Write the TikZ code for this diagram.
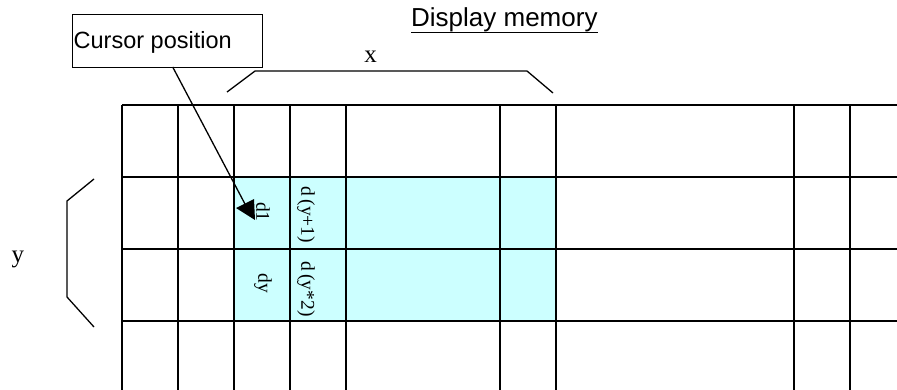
\documentclass[tikz,border=0pt]{standalone}
\usepackage{fontspec}
\setmainfont{Liberation Serif}
\newfontfamily\sansf{Liberation Sans}
\begin{document}
\begin{tikzpicture}[x=1pt,y=-1pt,
  gridline/.style={line width=1.5pt,black},
  brline/.style={line width=1.3pt,black},
  sanslbl/.style={font=\sansf\fontsize{23.5}{26}\selectfont,inner sep=0},
  seriflbl/.style={font=\fontsize{25}{27}\selectfont,inner sep=0},
  celllbl/.style={font=\fontsize{19.5}{21}\selectfont,inner sep=0,rotate=-90}]
\useasboundingbox (0,0) rectangle (897,390);
% cyan area
\fill[fill={rgb,255:red,204;green,255;blue,255}] (234,177) rectangle (556,321);
% grid
\foreach \yy in {105,177,249,321} \draw[gridline] (122,\yy) -- (897,\yy);
\foreach \xx in {122,178,234,290,346,500,556,794,850} \draw[gridline] (\xx,105) -- (\xx,390);
% cell labels
\node[celllbl] (d1) at (263,212) {d1};
\node[celllbl] (dy) at (263,283) {dy};
\node[celllbl] (dy1) at (306,215) {d\,(y+1)};
\node[celllbl] (dy2) at (306,289) {d\,(y*2)};
% title
\node[sanslbl,font=\sansf\fontsize{26}{28}\selectfont,anchor=base west] (title) at (411,27) {Display memory};
\draw[line width=1.3pt] ([shift={(0,5.5)}]title.base west) -- ([shift={(0,5.5)}]title.base east);
% x bracket
\draw[brline] (227,92) -- (255,71) -- (527,71) -- (553,93);
\node[seriflbl,anchor=base] (xl) at (370.5,62.5) {x};
% y bracket
\draw[brline] (94,179) -- (67,201) -- (67,297) -- (94,327);
\node[seriflbl,anchor=base] (yl) at (18,262) {y};
% cursor box
\node[draw,line width=1.3pt,minimum width=190,minimum height=53,anchor=north west,inner sep=0] (cur) at (72,14) {};
\node[sanslbl,anchor=base west] (curtext) at (73.5,48.5) {Cursor position};
\coordinate (tipend) at (245,204);
\draw[line width=1.3pt] (172.7,67) -- (tipend);
\fill (236,208) -- (254,199) -- (255,220) -- cycle;
\end{tikzpicture}
\end{document}
